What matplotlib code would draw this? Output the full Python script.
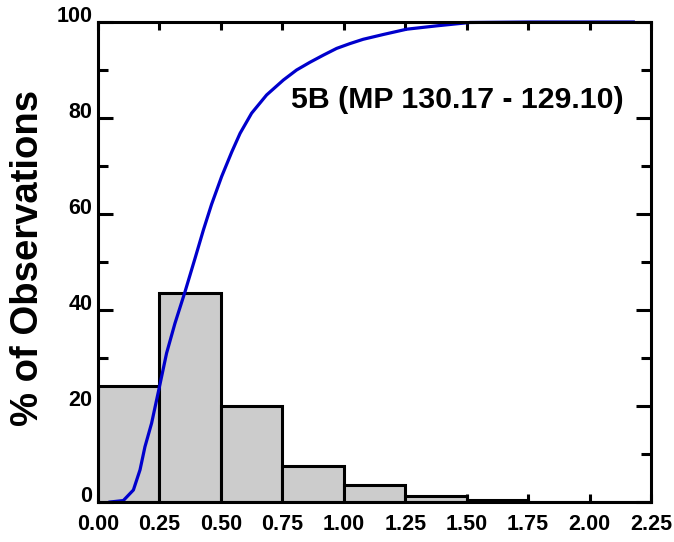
import matplotlib
matplotlib.use("Agg")
import matplotlib.pyplot as plt
from matplotlib.ticker import MultipleLocator

plt.rcParams['font.family'] = ['Liberation Sans', 'DejaVu Sans']
plt.rcParams['font.weight'] = 'bold'

bin_edges = [0.0, 0.25, 0.5, 0.75, 1.0, 1.25, 1.5, 1.75, 2.0, 2.25]
bin_pct = [24.1, 43.5, 20.1, 7.6, 3.5, 1.3, 0.4, 0.0, 0.0]

cdf_x = [0.049, 0.103, 0.144, 0.171, 0.191, 0.218, 0.25, 0.279, 0.313, 0.354,
         0.395, 0.429, 0.462, 0.503, 0.544, 0.578, 0.625, 0.686, 0.754, 0.808,
         0.862, 0.917, 0.971, 1.025, 1.079, 1.161, 1.256, 1.378, 1.513, 1.758, 2.178]
cdf_y = [0.0, 0.3, 2.5, 6.7, 11.5, 16.4, 24.0, 31.0, 37.2, 43.8,
         50.8, 56.7, 62.0, 67.8, 72.9, 76.8, 81.0, 84.8, 87.9, 90.0,
         91.6, 93.1, 94.5, 95.5, 96.4, 97.4, 98.5, 99.2, 99.9, 100.0, 100.0]

x_ticks = [0.0, 0.25, 0.5, 0.75, 1.0, 1.25, 1.5, 1.75, 2.0, 2.25]
x_ticklabels = ["0.00", "0.25", "0.50", "0.75", "1.00", "1.25", "1.50", "1.75", "2.00", "2.25"]
y_ticks = [0, 20, 40, 60, 80, 100]
title_text = "5B (MP 130.17 - 129.10)"
ylabel_text = "% of Observations"

fig = plt.figure(figsize=(6.74, 5.42), dpi=100)
ax = fig.add_axes([98/674, 40/542, 553/674, 480/542])

lefts = bin_edges[:-1]
widths = [bin_edges[i+1] - bin_edges[i] for i in range(len(lefts))]
ax.bar(lefts, bin_pct, width=widths, align='edge', color='#cccccc',
       edgecolor='black', linewidth=2.2, zorder=2)
ax.plot(cdf_x, cdf_y, color='#0000cc', linewidth=2.3, zorder=3,
        clip_on=False, solid_joinstyle='round')

ax.set_xlim(0, 2.25)
ax.set_ylim(0, 100)
ax.set_xticks(x_ticks)
ax.set_xticklabels(x_ticklabels)
ax.set_yticks(y_ticks)
ax.yaxis.set_minor_locator(MultipleLocator(10))

for s in ax.spines.values():
    s.set_linewidth(2.2)
    s.set_zorder(4)

ax.tick_params(axis='x', which='major', direction='in', length=6, width=2.2,
               top=True, bottom=True, labelsize=15.5, pad=9)
ax.tick_params(axis='y', which='major', direction='in', length=11, width=2.2,
               left=True, right=True, labelsize=15.5, pad=4)
ax.tick_params(axis='y', which='minor', direction='in', length=7, width=2.2,
               left=True, right=True)
for lab in ax.get_yticklabels():
    lab.set_verticalalignment('baseline')
for lab in ax.get_xticklabels() + ax.get_yticklabels():
    lab.set_fontweight('bold')

ax.text(1.46, 83.8, title_text, fontsize=21.8, fontweight='bold',
        ha='center', va='center', zorder=5)
fig.text(28/674, 1 - 258/542, ylabel_text, fontsize=27.5, fontweight='bold',
         rotation=90, ha='center', va='center')

fig.savefig("out.png", dpi=100)
